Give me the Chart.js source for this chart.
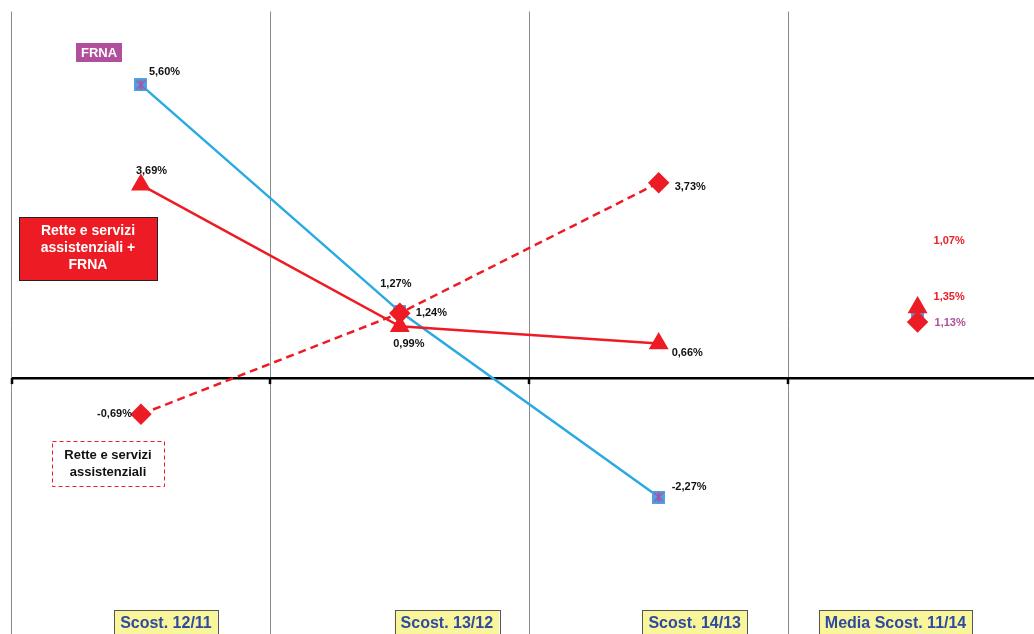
<!DOCTYPE html>
<html>
<head>
<meta charset="utf-8">
<script src="https://cdn.jsdelivr.net/npm/chart.js@4/dist/chart.umd.min.js"></script>
<style>
    html, body { margin: 0; padding: 0; background: #fff; }
    #wrap { width: 1034px; height: 634px; overflow: hidden; position: relative; }
    canvas { display: block; }
</style>
</head>
<body>
<div id="wrap"><canvas id="chart" width="1060" height="660"></canvas></div>
<script>
// categorie
const categories = ['Scost. 12/11', 'Scost. 13/12', 'Scost. 14/13', 'Media Scost. 11/14'];

// valori (%)
const retteValues = [-0.69, 1.24, 3.73, 1.07];
const retteFrnaValues = [3.69, 0.99, 0.66, 1.35];
const frnaValues = [5.60, 1.27, -2.27, 1.13];

// asse y
const yMin = -5;
const yMax = 7;

// posizione etichette rispetto al punto [dx, dy, allineamento]
const retteLabelPos = [[-9, 0, 'right'], [16, 0, 'left'], [16, 4, 'left'], [16, -81, 'left']];
const retteFrnaLabelPos = [[-5, -14, 'left'], [9, 18, 'center'], [13, 9, 'left'], [16, -10, 'left']];
const frnaLabelPos = [[8, -13, 'left'], [-4, -28, 'center'], [13, -10, 'left'], [17, 4, 'left']];
const mediaColors = ['#e8202a', '#e8202a', '#b04f9c'];

// spostamento etichette categorie
const catLabelShift = [25, 47, 36, -22];

const RED = '#ed1c24';
const BLUE = '#2aaae2';
const PINK = '#b04f9c';

function fmt(v) {
    return v.toFixed(2).replace('.', ',') + '%';
}

// marker FRNA: quadrato azzurro con X viola
function makeFrnaMarker() {
    const c = document.createElement('canvas');
    c.width = 13;
    c.height = 13;
    const g = c.getContext('2d');
    g.fillStyle = '#4aa3e6';
    g.fillRect(0, 0, 13, 13);
    g.strokeStyle = PINK;
    g.lineWidth = 1.6;
    g.beginPath();
    g.moveTo(2, 2); g.lineTo(11, 11);
    g.moveTo(11, 2); g.lineTo(2, 11);
    g.moveTo(6.5, 1); g.lineTo(6.5, 12);
    g.stroke();
    return c;
}

const noLastSegment = ctx => ctx.p1DataIndex === 3 ? 'transparent' : undefined;

const overlayPlugin = {
    id: 'overlay',
    afterDraw(chart) {
        const ctx = chart.ctx;
        const xs = chart.scales.x;
        const ys = chart.scales.y;
        const area = chart.chartArea;
        ctx.save();

        // tacche sotto l'asse zero
        const y0 = ys.getPixelForValue(0);
        ctx.strokeStyle = '#000';
        ctx.lineWidth = 2.5;
        const step = (area.right - area.left) / categories.length;
        for (let i = 0; i < categories.length; i++) {
            const x = Math.round(area.left + i * step);
            ctx.beginPath();
            ctx.moveTo(x, y0);
            ctx.lineTo(x, y0 + 6);
            ctx.stroke();
        }

        // etichette valori
        ctx.font = 'bold 11px "Liberation Sans", Arial, sans-serif';
        ctx.textBaseline = 'middle';
        const sets = [[retteValues, retteLabelPos, 0], [retteFrnaValues, retteFrnaLabelPos, 1], [frnaValues, frnaLabelPos, 2]];
        sets.forEach(([vals, pos, k]) => {
            vals.forEach((v, i) => {
                const px = xs.getPixelForValue(i);
                const py = ys.getPixelForValue(v);
                ctx.fillStyle = i === 3 ? mediaColors[k] : '#111';
                ctx.textAlign = pos[i][2];
                ctx.fillText(fmt(v), px + pos[i][0], py + pos[i][1]);
            });
        });

        // legenda FRNA
        ctx.fillStyle = PINK;
        ctx.fillRect(76, 43, 46, 19);
        ctx.fillStyle = '#fff';
        ctx.font = 'bold 13px "Liberation Sans", Arial, sans-serif';
        ctx.textAlign = 'center';
        ctx.fillText('FRNA', 99, 53);

        // legenda Rette + FRNA
        ctx.fillStyle = RED;
        ctx.fillRect(19.5, 217.5, 138, 63);
        ctx.strokeStyle = '#222';
        ctx.lineWidth = 1;
        ctx.strokeRect(19.5, 217.5, 138, 63);
        ctx.fillStyle = '#fff';
        ctx.font = 'bold 14px "Liberation Sans", Arial, sans-serif';
        ctx.fillText('Rette e servizi', 88, 231);
        ctx.fillText('assistenziali +', 88, 248);
        ctx.fillText('FRNA', 88, 265);

        // legenda Rette
        ctx.fillStyle = '#fff';
        ctx.fillRect(52.5, 441.5, 112, 45);
        ctx.strokeStyle = RED;
        ctx.setLineDash([4, 3]);
        ctx.strokeRect(52.5, 441.5, 112, 45);
        ctx.setLineDash([]);
        ctx.fillStyle = '#111';
        ctx.font = 'bold 13px "Liberation Sans", Arial, sans-serif';
        ctx.fillText('Rette e servizi', 108, 455);
        ctx.fillText('assistenziali', 108, 472);

        // etichette categorie
        ctx.font = 'bold 16px "Liberation Sans", Arial, sans-serif';
        categories.forEach((c, i) => {
            const cx = xs.getPixelForValue(i) + catLabelShift[i];
            const w = ctx.measureText(c).width + 12;
            const top = 610;
            ctx.fillStyle = '#f8f59b';
            ctx.fillRect(cx - w / 2, top, w, 40);
            ctx.strokeStyle = '#555';
            ctx.lineWidth = 1;
            ctx.strokeRect(Math.round(cx - w / 2) + 0.5, top + 0.5, Math.round(w), 40);
            ctx.fillStyle = '#2f4aa0';
            ctx.fillText(c, cx, top + 14);
        });

        ctx.restore();
    }
};

const ctx = document.getElementById('chart').getContext('2d');
new Chart(ctx, {
    type: 'line',
    data: {
        labels: categories,
        datasets: [{
            label: 'Rette e servizi assistenziali',
            data: retteValues,
            borderColor: RED,
            borderWidth: 2.5,
            borderDash: [8, 5],
            pointStyle: 'rectRot',
            pointRadius: 9,
            pointBackgroundColor: RED,
            pointBorderColor: RED,
            segment: { borderColor: noLastSegment },
            tension: 0
        }, {
            label: 'Rette e servizi assistenziali + FRNA',
            data: retteFrnaValues,
            borderColor: RED,
            borderWidth: 2.5,
            pointStyle: 'triangle',
            pointRadius: 9,
            pointBackgroundColor: RED,
            pointBorderColor: RED,
            segment: { borderColor: noLastSegment },
            tension: 0
        }, {
            label: 'FRNA',
            data: frnaValues,
            borderColor: BLUE,
            borderWidth: 2.5,
            pointStyle: makeFrnaMarker(),
            pointRadius: 7,
            segment: { borderColor: noLastSegment },
            tension: 0
        }]
    },
    options: {
        responsive: false,
        animation: false,
        events: [],
        layout: { padding: { left: 10, top: 10, right: 13, bottom: 20 } },
        plugins: {
            legend: { display: false },
            tooltip: { enabled: false }
        },
        scales: {
            x: {
                offset: true,
                grid: { offset: true, color: '#8a8a8a', lineWidth: 1, drawTicks: false },
                border: { display: false },
                ticks: { display: false }
            },
            y: {
                min: yMin,
                max: yMax,
                grid: {
                    drawTicks: false,
                    color: c => c.tick.value === 0 ? '#000' : 'transparent',
                    lineWidth: c => c.tick.value === 0 ? 2.5 : 0
                },
                border: { display: false },
                ticks: { display: false, stepSize: 1 }
            }
        }
    },
    plugins: [overlayPlugin]
});
</script>
</body>
</html>
